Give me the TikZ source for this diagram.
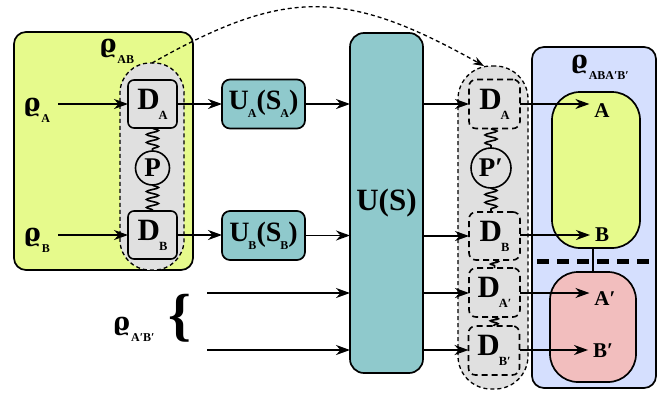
\documentclass[tikz,border=0pt]{standalone}
\usepackage{fontspec}
\setmainfont{Liberation Serif}
\newfontfamily\rhofont{DejaVu Serif}
\usetikzlibrary{arrows.meta,decorations.pathmorphing}
\definecolor{ygreen}{RGB}{230,250,140}
\definecolor{tealbx}{RGB}{143,201,204}
\definecolor{lgray}{RGB}{224,224,224}
\definecolor{lblue}{RGB}{213,223,254}
\definecolor{lpink}{RGB}{242,190,190}
\newcommand{\rholab}[1]{{\rhofont\bfseries\fontsize{25}{25}\selectfont ϱ}\kern1pt\raisebox{-11pt}{\fontsize{12}{12}\selectfont\bfseries #1}}
\newcommand{\dlab}[1]{{\fontsize{31}{31}\selectfont\bfseries D}\kern-1pt\raisebox{-10pt}{\fontsize{12.5}{12.5}\selectfont\bfseries #1}}
\newcommand{\usub}[1]{\raisebox{-8pt}{\fontsize{12}{12}\selectfont\bfseries #1}}
\tikzset{
  every node/.style={font=\bfseries, inner sep=0pt, outer sep=0pt},
  arr/.style={line width=1.8pt,-{Stealth[length=14pt,width=10pt,inset=4.5pt]}},
  dbox/.style={draw,line width=1.6pt,rounded corners=6pt,fill=lgray},
  ddbox/.style={draw,line width=1.6pt,rounded corners=7pt,fill=lgray,dash pattern=on 6pt off 4pt},
  capsule/.style={draw,line width=1.3pt,fill=lgray,dash pattern=on 4pt off 3pt},
  tealbox/.style={draw,line width=1.7pt,fill=tealbx},
  coil/.style={decorate,decoration={snake,segment length=8pt,amplitude=6pt},line width=1.6pt},
  circ/.style={draw,circle,line width=1.6pt},
  outerbox/.style={draw,line width=1.7pt,rounded corners=12pt},
  lab/.style={font=\bfseries\fontsize{21}{21}\selectfont},
}
\begin{document}
\begin{tikzpicture}[x=1pt,y=-1pt]
\useasboundingbox (0,0) rectangle (664,394);
% left system
\node[outerbox,fill=ygreen,minimum width=179pt,minimum height=238pt] (YL) at (103.5,151) {};
\node (rAB) at (117,51) {\rholab{AB}};
\node[capsule,rounded corners=30pt,minimum width=64pt,minimum height=207pt] (GL) at (152,166.5) {};
\node[dbox,minimum width=49pt,minimum height=48pt] (DA) at (152.5,104) {\dlab{A}};
\node[dbox,minimum width=49pt,minimum height=48pt] (DB) at (152.5,235) {\dlab{B}};
\node[circ,minimum size=34pt] (P) at (152.5,168) {\fontsize{27}{27}\selectfont P};
\draw[coil] (DA.south) -- (P.north);
\draw[coil] (P.south) -- (DB.north);
\node (rA) at (37,110) {\rholab{A}};
\node (rB) at (37,240) {\rholab{B}};
\coordinate (sA) at (58,104);
\coordinate (sB) at (58,235);
\draw[arr] (sA) -- (DA.west);
\draw[arr] (sB) -- (DB.west);
% local unitaries
\node[tealbox,rounded corners=8pt,minimum width=83pt,minimum height=49pt] (UA) at (263.5,104) {\fontsize{28}{28}\selectfont U\kern-1pt\usub{A}(S\kern-1pt\usub{A})};
\node[tealbox,rounded corners=8pt,minimum width=83pt,minimum height=49pt] (UB) at (263.5,235.5) {\fontsize{28}{28}\selectfont U\kern-1pt\usub{B}(S\kern-1pt\usub{B})};
\draw[arr] (DA.east) -- (UA.west);
\draw[arr] (DB.east) -- (DB.east -| UB.west);
% global unitary
\node[tealbox,rounded corners=14pt,minimum width=73pt,minimum height=340pt] (US) at (386.5,203) {\fontsize{31}{31}\selectfont U(S)};
\draw[arr] (UA.east) -- (UA.east -| US.west);
\draw[arr] (UB.east) -- (UB.east -| US.west);
% ancilla
\node (rAB2) at (134,329) {\rholab{A′B′}};
\node (brace) at (180,318) {\fontsize{58}{58}\selectfont\{};
\coordinate (sA2) at (207,293);
\coordinate (sB2) at (207,350);
\draw[arr] (sA2) -- (sA2 -| US.west);
\draw[arr] (sB2) -- (sB2 -| US.west);
% right detectors
\node[capsule,rounded corners=33pt,minimum width=70pt,minimum height=323pt] (GR) at (493,227.5) {};
\node[ddbox,minimum width=51pt,minimum height=49pt] (DA2) at (494.5,104) {\dlab{A}};
\node[circ,minimum size=40pt] (P2) at (491,168) {\fontsize{27}{27}\selectfont P′};
\node[ddbox,minimum width=51pt,minimum height=48pt] (DB2) at (494.5,236) {\dlab{B}};
\node[ddbox,minimum width=51pt,minimum height=49pt] (DA3) at (494.5,292.5) {\dlab{A′}};
\node[ddbox,minimum width=51pt,minimum height=49pt] (DB3) at (494,350.5) {\dlab{B′}};
\draw[coil] (P2.north |- DA2.south) -- (P2.north);
\draw[coil] (P2.south) -- (P2.south |- DB2.north);
\draw[coil,decoration={segment length=5pt,amplitude=4pt}] (DB2.south) -- (DA3.north);
\draw[coil,decoration={segment length=5pt,amplitude=4pt}] (DA3.south) -- (DB3.north);
\draw[arr] (US.east |- DA2.west) -- (DA2.west);
\draw[arr] (US.east |- DB2.west) -- (DB2.west);
\draw[arr] (US.east |- sA2) -- (DA3.west |- sA2);
\draw[arr] (US.east |- sB2) -- (DB3.west |- sB2);
\draw[line width=1.3pt,dash pattern=on 4pt off 3pt,-{Stealth[length=11pt,width=8pt,inset=3.5pt]}] (GL.north) .. controls (285,-12) and (345,-12) .. ([xshift=-9pt]GR.north);
% final state
\node[outerbox,fill=lblue,minimum width=124pt,minimum height=341pt] (BL) at (594,217.5) {};
\node (rF) at (600,67) {\rholab{ABA′B′}};
\node[draw,line width=1.7pt,fill=ygreen,rounded corners=28pt,minimum width=88pt,minimum height=156pt] (YC) at (596,170) {};
\node[draw,line width=1.7pt,fill=lpink,rounded corners=28pt,minimum width=86pt,minimum height=110pt] (PC) at (593,327) {};
\draw[line width=1.7pt] (PC.north |- YC.south) -- (PC.north);
\draw[line width=5pt,dash pattern=on 12pt off 8pt] (537,261) -- (651,261);
\node[lab] (LA) at (602,111) {A};
\node[lab] (LB) at (602,235) {B};
\node[lab] (LA2) at (605,299) {A′};
\node[lab] (LB2) at (603,351) {B′};
\draw[arr,shorten >=5pt] (DA2.east) -- (DA2.east -| LA.west);
\draw[arr,shorten >=5pt] (DB2.east |- LB.west) -- (LB.west);
\draw[arr,shorten >=5pt] (DA3.east |- sA2) -- (LA2.west |- sA2);
\draw[arr,shorten >=5pt] (DB3.east |- sB2) -- (LB2.west |- sB2);
\end{tikzpicture}
\end{document}
